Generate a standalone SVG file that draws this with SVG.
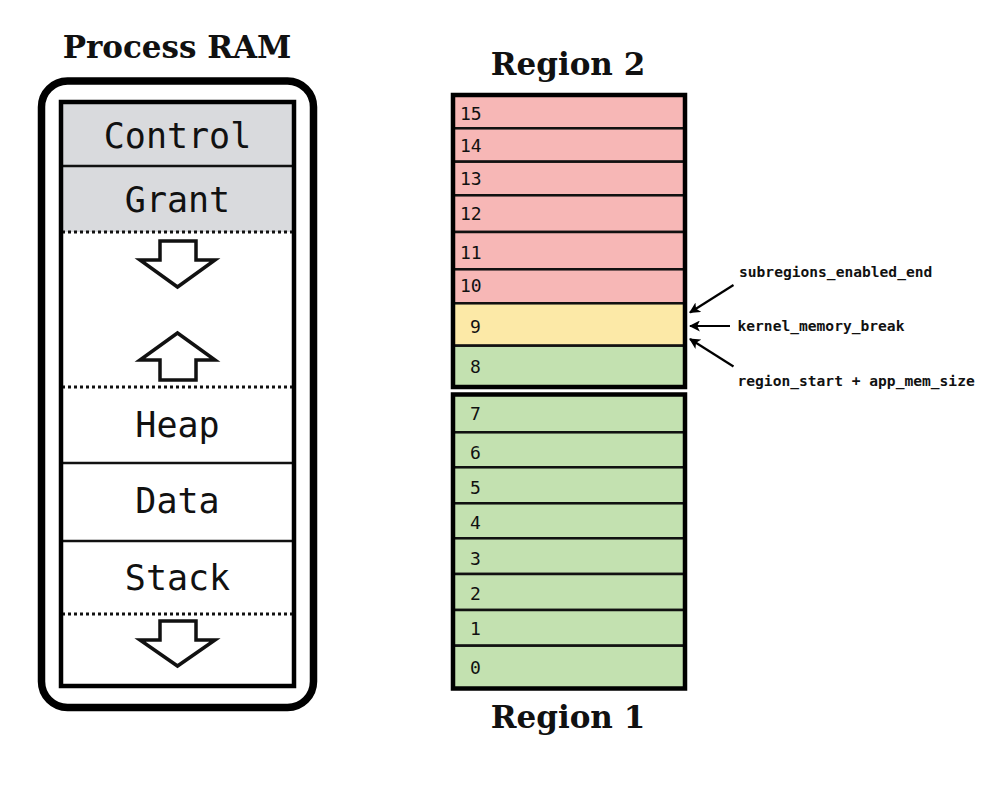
<svg xmlns="http://www.w3.org/2000/svg" width="1001" height="798" viewBox="0 0 1001 798">
<defs>
<style>
.title{font-family:"DejaVu Serif","Liberation Serif",serif;font-weight:bold;font-size:31px;fill:#111;text-anchor:middle}
.seg{font-family:"DejaVu Sans Mono","Liberation Mono",monospace;font-size:35px;fill:#111;text-anchor:middle}
.num{font-family:"DejaVu Sans Mono","Liberation Mono",monospace;font-size:18px;fill:#111}
.ann{font-family:"DejaVu Sans Mono","Liberation Mono",monospace;font-weight:bold;font-size:14.6px;fill:#111}
.div{stroke:#111;stroke-width:2.5;fill:none}
.dot{stroke:#111;stroke-width:3;stroke-dasharray:3 3;fill:none}
.blk{fill:#fff;stroke:#111;stroke-width:3.5;stroke-linejoin:miter}
.red{fill:#f7b7b6;stroke:#111;stroke-width:2.5}
.yel{fill:#fce9a7;stroke:#111;stroke-width:2.5}
.grn{fill:#c3e1b0;stroke:#111;stroke-width:2.5}
.frame{fill:none;stroke:#000;stroke-width:4.5}
.conn{stroke:#000;stroke-width:2.2;fill:none}
</style>
<marker id="ah" viewBox="0 0 10 10" refX="9" refY="5" markerWidth="5" markerHeight="5" orient="auto" markerUnits="strokeWidth">
<path d="M0,0 L10,5 L0,10 L2.5,5 z" fill="#000"/>
</marker>
</defs>
<rect width="1001" height="798" fill="#fff"/>

<g id="process-ram">
<text class="title" x="177" y="58">Process RAM</text>
<rect x="41.5" y="81" width="272" height="626.5" rx="26" ry="26" fill="#fff" stroke="#000" stroke-width="7.5"/>
<rect x="61" y="102" width="233" height="130" fill="#d9dadd"/>
<line class="div" x1="61" y1="166" x2="294" y2="166"/>
<line class="dot" x1="62" y1="232" x2="294" y2="232"/>
<line class="dot" x1="62" y1="387" x2="294" y2="387"/>
<line class="div" x1="61" y1="463" x2="294" y2="463"/>
<line class="div" x1="61" y1="541" x2="294" y2="541"/>
<line class="dot" x1="62" y1="614" x2="294" y2="614"/>
<rect x="61" y="102" width="233" height="584" fill="none" stroke="#000" stroke-width="4.5"/>
<text class="seg" x="177.5" y="148">Control</text>
<text class="seg" x="177.5" y="212">Grant</text>
<text class="seg" x="177.5" y="437">Heap</text>
<text class="seg" x="177.5" y="513">Data</text>
<text class="seg" x="177.5" y="590">Stack</text>
<polygon class="blk" points="160,241 196,241 196,260 215,260 177.5,287 140,260 160,260"/>
<polygon class="blk" points="177.5,333 215,360 196,360 196,380 160,380 160,360 140,360"/>
<polygon class="blk" points="160,621 196,621 196,640 215,640 177.5,666 140,640 160,640"/>
</g>

<g id="region-2">
<text class="title" x="568" y="75">Region 2</text>
<rect class="red" x="453" y="95" width="232" height="33.3"/>
<rect class="red" x="453" y="128.3" width="232" height="33.4"/>
<rect class="red" x="453" y="161.7" width="232" height="33.6"/>
<rect class="red" x="453" y="195.3" width="232" height="36.7"/>
<rect class="red" x="453" y="232" width="232" height="37.3"/>
<rect class="red" x="453" y="269.3" width="232" height="34"/>
<rect class="yel" x="453" y="303.3" width="232" height="42.4"/>
<rect class="grn" x="453" y="345.7" width="232" height="41.3"/>
<rect class="frame" x="453" y="95" width="232" height="292"/>
<text class="num" x="460" y="119.5">15</text>
<text class="num" x="460" y="151.5">14</text>
<text class="num" x="460" y="185">13</text>
<text class="num" x="460" y="220">12</text>
<text class="num" x="460" y="258.5">11</text>
<text class="num" x="460" y="291.5">10</text>
<text class="num" x="470" y="333">9</text>
<text class="num" x="470" y="373">8</text>
</g>

<g id="region-1">
<rect class="grn" x="453" y="394.5" width="232" height="37.8"/>
<rect class="grn" x="453" y="432.3" width="232" height="35"/>
<rect class="grn" x="453" y="467.3" width="232" height="36"/>
<rect class="grn" x="453" y="503.3" width="232" height="35"/>
<rect class="grn" x="453" y="538.3" width="232" height="35.7"/>
<rect class="grn" x="453" y="574" width="232" height="36"/>
<rect class="grn" x="453" y="610" width="232" height="35.7"/>
<rect class="grn" x="453" y="645.7" width="232" height="42.8"/>
<rect class="frame" x="453" y="394.5" width="232" height="294"/>
<text class="num" x="470" y="419.5">7</text>
<text class="num" x="470" y="458.5">6</text>
<text class="num" x="470" y="493.5">5</text>
<text class="num" x="470" y="529">4</text>
<text class="num" x="470" y="564.5">3</text>
<text class="num" x="470" y="599.5">2</text>
<text class="num" x="470" y="635">1</text>
<text class="num" x="470" y="673.5">0</text>
<text class="title" x="568" y="728">Region 1</text>
</g>

<g id="label-subregions-enabled-end">
<text class="ann" x="739" y="276.5">subregions_enabled_end</text>
</g>
<g id="label-kernel-memory-break">
<text class="ann" x="737.5" y="331">kernel_memory_break</text>
</g>
<g id="label-region-start">
<text class="ann" x="737.5" y="386">region_start + app_mem_size</text>
</g>

<g id="connectors">
<line class="conn" x1="733.5" y1="285" x2="690" y2="312.5" marker-end="url(#ah)"/>
<line class="conn" x1="730" y1="326" x2="690" y2="326" marker-end="url(#ah)"/>
<line class="conn" x1="733.5" y1="366.5" x2="690" y2="339" marker-end="url(#ah)"/>
</g>
</svg>
